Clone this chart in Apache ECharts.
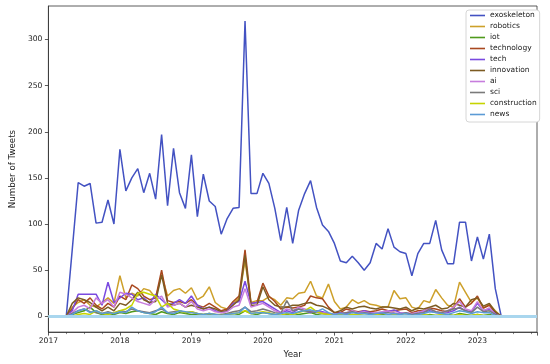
<!DOCTYPE html>
<html><head><meta charset="utf-8">
<script src="https://cdn.jsdelivr.net/npm/echarts@6/dist/echarts.min.js"></script>
<style>html,body{margin:0;padding:0;background:#fff}#c{width:550px;height:364px}</style>
</head><body><div id="c"></div>
<script>
// months: index 0 = Jan 2017 ... 82 = Nov 2023
const startYear = 2017;
const monthCount = 83;
const yearTicks = ['2017','2018','2019','2020','2021','2022','2023'];
const yTicks = [0, 50, 100, 150, 200, 250, 300];
const seriesNames = ['exoskeleton','robotics','iot','technology','tech','innovation','ai','sci','construction','news'];
const colors = ['#4352c2','#cda02a','#4f9a1c','#a9481f','#7a4ae0','#7c5b22','#c77ddd','#7a7a7a','#c6d400','#5b9bd5'];

const Z4 = [0,0,0,0];
const Z7 = [0,0,0,0,0,0,0];
const exoskeleton = Z4.concat([72,145,141,144,101,102,126,100,181,136,150,160,134,155,127,197,120,182,134,117,175,108,154,125,119,89,106,117,118,320,133,133,155,144,117,82,118,79,115,133,147,118,99,92,79,60,58,65,58,50,58,79,73,95,75,70,68,44,68,79,79,104,72,57,57,102,102,60,86,62,89,30]).concat(Z7);
const robotics = Z4.concat([10,15,18,12,10,15,20,14,44,20,25,22,30,28,20,45,22,28,30,25,31,18,22,32,15,10,8,14,20,60,15,17,17,21,18,12,20,19,25,26,38,22,20,35,16,8,10,18,14,17,13,12,10,10,28,19,20,10,8,17,15,29,20,12,10,37,26,15,20,9,13,6]).concat(Z7);
const iot = Z4.concat([2,4,6,10,4,2,3,2,4,3,5,6,4,3,2,5,3,2,4,3,2,2,1,2,1,1,2,3,2,6,3,2,4,3,2,1,2,1,2,3,4,2,1,1,0,1,1,2,1,1,1,1,2,1,2,1,1,0,1,1,2,1,1,2,1,3,2,1,2,1,2,0]).concat(Z7);
const technology = Z4.concat([8,18,14,20,12,8,14,10,22,18,34,30,22,18,20,50,17,15,16,14,18,12,10,14,10,6,8,16,22,72,14,15,36,22,16,8,10,9,10,12,22,20,19,10,4,4,8,6,5,6,5,6,8,6,6,7,8,4,6,6,9,8,6,5,9,19,10,14,22,9,12,4]).concat(Z7);
const tech = Z4.concat([6,24,24,24,24,12,37,15,20,25,24,18,20,14,24,18,12,14,18,14,22,12,8,10,6,4,6,14,16,38,14,15,16,12,8,4,6,4,8,6,4,6,5,3,2,4,3,5,4,6,4,3,4,5,7,4,3,2,4,5,6,4,3,4,6,10,6,5,14,6,8,3]).concat(Z7);
const innovation = Z4.concat([14,20,18,15,10,6,10,6,14,12,18,26,18,15,16,45,14,12,14,10,12,10,8,10,8,5,6,12,18,66,12,12,32,18,12,10,10,12,12,14,15,12,11,8,4,6,10,8,10,11,9,8,10,10,9,8,10,6,9,8,10,12,8,9,14,12,10,18,20,11,14,5]).concat(Z7);
const ai = Z4.concat([4,10,12,8,20,14,18,10,26,24,20,16,14,12,18,22,10,12,14,10,16,8,6,8,5,4,5,10,12,30,10,12,14,10,6,4,8,6,10,8,6,5,4,3,2,3,4,6,4,5,3,4,5,6,4,3,4,3,4,6,8,5,4,6,10,16,8,6,16,6,9,2]).concat(Z7);
const sci = Z4.concat([3,6,8,5,4,3,5,3,6,5,8,6,5,4,6,8,4,5,6,4,5,3,2,3,2,2,3,5,6,10,5,6,8,6,4,3,17,6,8,6,5,4,3,2,1,3,4,5,3,4,3,2,3,4,3,2,4,2,3,4,8,5,4,6,8,9,6,4,10,5,6,2]).concat(Z7);
const construction = Z4.concat([0,2,3,2,6,3,2,4,6,8,12,25,26,24,22,10,14,8,6,4,5,3,2,3,2,1,2,3,4,6,3,4,5,4,2,1,3,2,4,6,10,5,3,2,1,2,1,2,2,1,1,2,1,1,2,1,1,0,1,2,1,1,2,1,1,2,1,1,2,1,1,0]).concat(Z7);
const news = Z4.concat([2,6,8,4,6,3,4,3,5,4,10,6,4,3,5,10,4,3,6,5,4,3,2,3,2,1,2,3,4,10,3,4,4,3,2,3,4,3,5,6,7,5,8,4,2,3,2,4,3,3,2,3,4,2,3,2,3,1,2,3,5,4,3,2,4,6,5,3,5,4,4,1]).concat(Z7);

const values = [exoskeleton, robotics, iot, technology, tech, innovation, ai, sci, construction, news];
const FONT = 'DejaVu Sans';

const series = seriesNames.map((name, i) => {
  const s = {
    name: name, type: 'line', showSymbol: false, symbol: 'none',
    data: values[i].map((v, m) => [m, v]),
    lineStyle: { width: 1.5, color: colors[i] },
    itemStyle: { color: colors[i] },
    animation: false
  };
  if (i === 0) {
    s.markLine = {
      silent: true, symbol: 'none', label: { show: false },
      lineStyle: { color: '#a9d6ee', width: 3, type: 'solid' },
      data: [{ yAxis: 0 }]
    };
  }
  return s;
});

const chart = echarts.init(document.getElementById('c'), null, { renderer: 'canvas' });
chart.setOption({
  backgroundColor: '#fff',
  animation: false,
  grid: { left: 36.7, right: 13, top: 6, bottom: 27, show: true, borderColor: '#333', borderWidth: 0.8, backgroundColor: 'transparent' },
  legend: {
    orient: 'vertical', left: 466, top: 10,
    icon: 'rect', itemWidth: 15, itemHeight: 1.6, itemGap: 0,
    padding: [0, 3, 2, 4],
    backgroundColor: '#fff', borderColor: '#d6d6d6', borderWidth: 1, borderRadius: 3,
    textStyle: { fontFamily: FONT, fontSize: 7.5, color: '#222', lineHeight: 11 },
    data: seriesNames
  },
  xAxis: {
    type: 'value', min: 0, max: monthCount - 1, interval: 12,
    name: 'Year', nameLocation: 'middle', nameGap: 15,
    nameTextStyle: { fontFamily: FONT, fontSize: 8.7, color: '#222' },
    axisLine: { show: true, onZero: false, lineStyle: { color: '#333', width: 0.8 } },
    axisTick: { show: true, length: 3.5, lineStyle: { color: '#333', width: 0.8 } },
    minorTick: { show: true, splitNumber: 4, length: 2, lineStyle: { color: '#333', width: 0.6 } },
    splitLine: { show: false },
    axisLabel: { fontFamily: FONT, fontSize: 7.6, color: '#222', margin: 5,
      formatter: v => yearTicks[Math.round(v / 12)] || '' }
  },
  yAxis: {
    type: 'value', min: -17.1, max: 336.3,
    name: 'Number of Tweets', nameLocation: 'middle', nameGap: 24,
    nameTextStyle: { fontFamily: FONT, fontSize: 8.7, color: '#222' },
    axisLine: { show: true, lineStyle: { color: '#333', width: 0.8 } },
    axisTick: { show: true, length: 3.5, customValues: yTicks, lineStyle: { color: '#333', width: 0.8 } },
    splitLine: { show: false },
    axisLabel: { fontFamily: FONT, fontSize: 7.6, color: '#222', margin: 6, customValues: yTicks }
  },
  series: series
});
</script></body></html>
